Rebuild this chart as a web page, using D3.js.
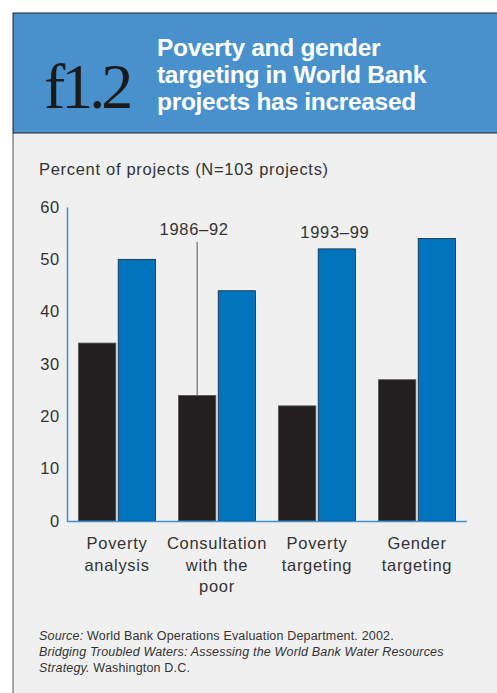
<!DOCTYPE html>
<html><head><meta charset="utf-8">
<script src="https://cdn.jsdelivr.net/npm/d3@7"></script>
<style>body{margin:0;background:#fff}svg{display:block}</style>
</head><body>
<script>
const categories = [["Poverty","analysis"],["Consultation","with the","poor"],["Poverty","targeting"],["Gender","targeting"]];
const series = ["1986–92","1993–99"];
const values8692 = [34,24,22,27];
const values9399 = [50,44,52,54];
const yTicks = [0,10,20,30,40,50,60];
const titleLines = ["Poverty and gender","targeting in World Bank","projects has increased"];
const W=497,H=693;
const svg=d3.select("body").append("svg").attr("width",W).attr("height",H);
// panel
svg.append("rect").attr("x",13).attr("y",133).attr("width",W-13).attr("height",H-133).attr("fill","#f0f0f0");
svg.append("line").attr("x1",13).attr("x2",13).attr("y1",133).attr("y2",H).attr("stroke","#555").attr("stroke-width",1);
// header
svg.append("rect").attr("x",13).attr("y",13).attr("width",W).attr("height",120).attr("fill","#4891cd").attr("stroke","#222").attr("stroke-width",1);
svg.append("text").attr("x",44).attr("y",108).attr("font-family","'Liberation Serif','Times New Roman',serif").attr("font-size",64).attr("fill","#1a1a1a").attr("letter-spacing",-4).text("f1.2");
const tt=svg.append("text").attr("font-family","'Liberation Sans',Arial,sans-serif").attr("font-weight","bold").attr("font-size",24.5).attr("letter-spacing",-0.3).attr("fill","#fff");
titleLines.forEach((l,i)=>tt.append("tspan").attr("x",157).attr("y",56+i*27).text(l));
const font="'Liberation Sans',Arial,sans-serif";
const ls=0.7;
svg.append("text").attr("x",39).attr("y",175).attr("font-family",font).attr("font-size",16.5).attr("letter-spacing",ls).attr("fill","#333").text("Percent of projects (N=103 projects)");
const x0=d3.scaleBand().domain(d3.range(categories.length)).range([67,467]).paddingInner(0.23).paddingOuter(0.115);
const x1=d3.scaleBand().domain([0,1]).range([0,x0.bandwidth()]).paddingInner(0.06);
const y=d3.scaleLinear().domain([0,60]).range([521,207]);
const g=svg.append("g");
const yAxis=g.append("g").attr("transform","translate(67,0)").call(d3.axisLeft(y).tickValues(yTicks).tickSize(0).tickPadding(7));
yAxis.select(".domain").attr("stroke","#3d8fd6").attr("stroke-width",1.5);
yAxis.selectAll("text").attr("font-family",font).attr("font-size",16.5).attr("letter-spacing",ls).attr("fill","#333");
const grp=g.selectAll(".grp").data(categories).enter().append("g").attr("transform",(d,i)=>`translate(${x0(i)},0)`);
const colors=["#231f20","#0073bd"];
grp.each(function(d,i){
  const vals=[values8692[i],values9399[i]];
  d3.select(this).selectAll("rect").data(vals).enter().append("rect")
   .attr("x",(v,j)=>x1(j)).attr("width",x1.bandwidth()).attr("y",v=>y(v)).attr("height",v=>y(0)-y(v))
   .attr("fill",(v,j)=>colors[j]).attr("stroke",(v,j)=>j? "#1d2a3a":"#555").attr("stroke-width",0.8);
});
// x axis line
g.append("line").attr("x1",67).attr("x2",467).attr("y1",y(0)+0.5).attr("y2",y(0)+0.5).attr("stroke","#3d8fd6").attr("stroke-width",1.5);
// category labels
grp.append("text").attr("x",x0.bandwidth()/2).attr("text-anchor","middle").attr("font-family",font).attr("font-size",16.5).attr("letter-spacing",ls).attr("fill","#333")
  .each(function(d){d.forEach((l,k)=>d3.select(this).append("tspan").attr("x",x0.bandwidth()/2).attr("y",549+k*21.5).text(l));});
// annotations
const ax=x0(1)+x1(0)+x1.bandwidth()/2;
svg.append("line").attr("x1",ax).attr("x2",ax).attr("y1",242).attr("y2",y(values8692[1])).attr("stroke","#555").attr("stroke-width",1);
svg.append("text").attr("x",ax-3).attr("y",235).attr("text-anchor","middle").attr("font-family",font).attr("font-size",16.5).attr("letter-spacing",ls).attr("fill","#333").text(series[0]);
svg.append("text").attr("x",x0(2)+x1(1)+x1.bandwidth()/2-2).attr("y",238).attr("text-anchor","middle").attr("font-family",font).attr("font-size",16.5).attr("letter-spacing",ls).attr("fill","#333").text(series[1]);
// source
const src=svg.append("text").attr("font-family",font).attr("font-size",12.5).attr("letter-spacing",0.18).attr("fill","#333");
const l1=src.append("tspan").attr("x",39).attr("y",640);
l1.append("tspan").attr("font-style","italic").text("Source:");
l1.append("tspan").text(" World Bank Operations Evaluation Department. 2002.");
src.append("tspan").attr("x",39).attr("y",656).attr("font-style","italic").text("Bridging Troubled Waters: Assessing the World Bank Water Resources");
const l3=src.append("tspan").attr("x",39).attr("y",672);
l3.append("tspan").attr("font-style","italic").text("Strategy.");
l3.append("tspan").text(" Washington D.C.");
</script>
</body></html>
